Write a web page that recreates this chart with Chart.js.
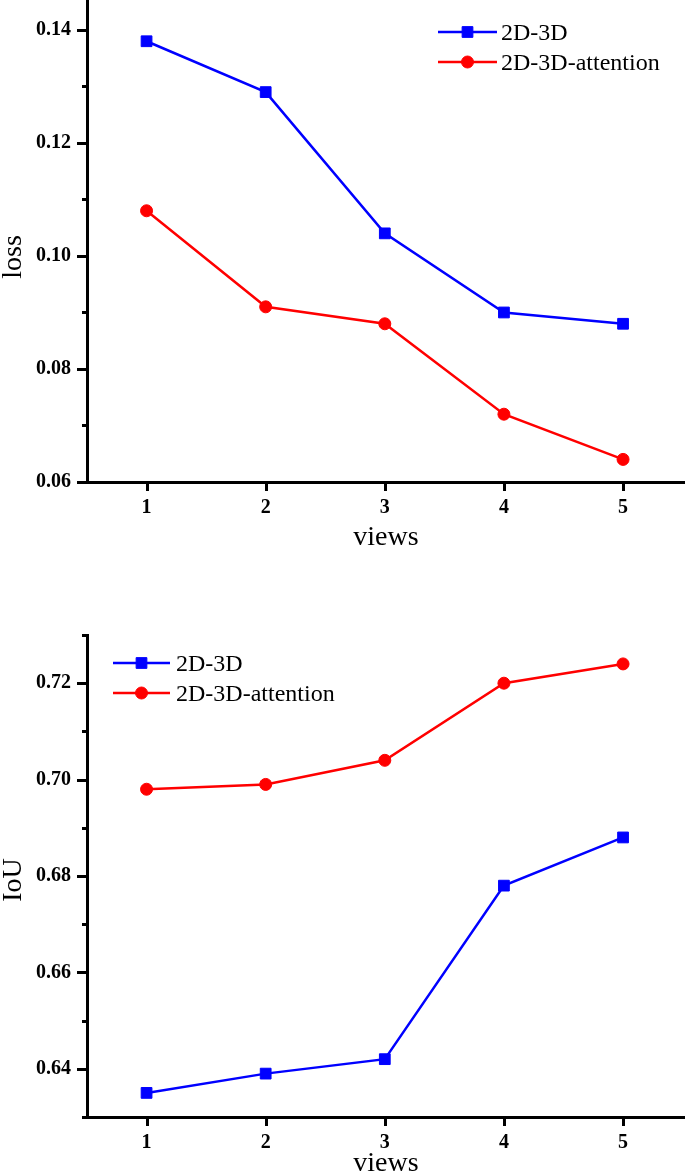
<!DOCTYPE html>
<html lang="en">
<head>
<meta charset="UTF-8">
<title>Loss and IoU vs views</title>
<script src="https://cdn.jsdelivr.net/npm/chart.js"></script>
<style>
  html, body { margin: 0; padding: 0; background: #fff; }
  #wrap { position: relative; width: 685px; height: 1176px; overflow: hidden; }
  #lossChart { position: absolute; left: 0; top: 0; }
  #iouChart { position: absolute; left: 0; top: 600px; }
</style>
</head>
<body>
<div id="wrap">
  <canvas id="lossChart" width="685" height="560"></canvas>
  <canvas id="iouChart" width="685" height="576"></canvas>
</div>
<script>
  // data
  const views = [1, 2, 3, 4, 5];
  const seriesNames = ['2D-3D', '2D-3D-attention'];
  const loss2d3d = [0.138, 0.129, 0.104, 0.090, 0.088];
  const lossAttention = [0.108, 0.091, 0.088, 0.072, 0.064];
  const iou2d3d = [0.635, 0.639, 0.642, 0.678, 0.688];
  const iouAttention = [0.698, 0.699, 0.704, 0.720, 0.724];

  const SERIF = '"Liberation Serif", "Times New Roman", serif';
  const BLUE = '#0000ff';
  const RED = '#ff0000';

  const toPoints = (ys) => views.map((x, i) => ({ x: x, y: ys[i] }));

  function makeDatasets(blueVals, redVals) {
    return [
      {
        label: seriesNames[0], data: toPoints(blueVals),
        borderColor: BLUE, backgroundColor: BLUE, borderWidth: 2.5,
        pointStyle: 'rect', pointRadius: 7.6, pointBorderWidth: 1, tension: 0
      },
      {
        label: seriesNames[1], data: toPoints(redVals),
        borderColor: RED, backgroundColor: RED, borderWidth: 2.5,
        pointStyle: 'circle', pointRadius: 6, pointBorderWidth: 1, tension: 0
      }
    ];
  }

  // outward tick marks: long for labelled ticks, short for the others
  const tickMarks = {
    id: 'tickMarks',
    afterDraw(chart) {
      const ctx = chart.ctx;
      const area = chart.chartArea;
      const xs = chart.scales.x, ys = chart.scales.y;
      ctx.save();
      ctx.strokeStyle = '#000';
      ctx.lineWidth = 3;
      ctx.beginPath();
      xs.ticks.forEach(t => {
        const px = Math.round(xs.getPixelForValue(t.value)) + 0.5;
        ctx.moveTo(px, area.bottom);
        ctx.lineTo(px, area.bottom + 9);
      });
      ys.ticks.forEach(t => {
        const py = Math.round(ys.getPixelForValue(t.value)) + 0.5;
        const major = Math.round(t.value * 100) % 2 === 0;
        ctx.moveTo(area.left, py);
        ctx.lineTo(area.left - (major ? 10 : 5), py);
      });
      ctx.stroke();
      ctx.restore();
    }
  };

  // legend drawn as line with marker through it
  const lineLegend = {
    id: 'lineLegend',
    afterDraw(chart, args, opts) {
      const ctx = chart.ctx;
      ctx.save();
      chart.data.datasets.forEach((ds, i) => {
        const y = opts.rows[i];
        ctx.strokeStyle = ds.borderColor;
        ctx.lineWidth = ds.borderWidth;
        ctx.beginPath();
        ctx.moveTo(opts.x0, y);
        ctx.lineTo(opts.x1, y);
        ctx.stroke();
        ctx.fillStyle = ds.backgroundColor;
        ctx.lineWidth = ds.pointBorderWidth;
        Chart.helpers.drawPoint(ctx, {
          pointStyle: ds.pointStyle, radius: ds.pointRadius,
          borderWidth: ds.pointBorderWidth, rotation: 0
        }, (opts.x0 + opts.x1) / 2, y);
        ctx.fillStyle = '#000';
        ctx.font = '24px ' + SERIF;
        ctx.textAlign = 'left';
        ctx.textBaseline = 'alphabetic';
        ctx.fillText(ds.label, opts.textX, y + 8);
      });
      ctx.restore();
    }
  };

  // rotated y axis title
  const sideTitle = {
    id: 'sideTitle',
    afterDraw(chart, args, opts) {
      const ctx = chart.ctx;
      const area = chart.chartArea;
      ctx.save();
      ctx.translate(opts.x, (area.top + area.bottom) / 2 + opts.dy);
      ctx.rotate(-Math.PI / 2);
      ctx.fillStyle = '#000';
      ctx.font = '28px ' + SERIF;
      ctx.textAlign = 'center';
      ctx.textBaseline = 'alphabetic';
      ctx.fillText(opts.text, 0, 0);
      ctx.restore();
    }
  };

  function makeOptions(cfg) {
    return {
      responsive: false,
      animation: false,
      devicePixelRatio: 1,
      layout: { autoPadding: false, padding: { top: cfg.padTop, left: 0, right: 0, bottom: 0 } },
      plugins: {
        legend: { display: false },
        tooltip: { enabled: false },
        lineLegend: cfg.legend,
        sideTitle: { text: cfg.yTitle, x: 21, dy: cfg.titleShift }
      },
      scales: {
        x: {
          type: 'linear', min: 0.5, max: 5.52,
          grid: { display: true, drawOnChartArea: false, drawTicks: false },
          border: { display: true, color: '#000', width: 3 },
          ticks: {
            stepSize: 1, includeBounds: false, padding: 14, color: '#000',
            font: { family: SERIF, size: 20, weight: 'bold' }
          },
          title: {
            display: true, text: 'views', color: '#000',
            font: { family: SERIF, size: 28, lineHeight: cfg.xTitleLh },
            padding: { top: 0, bottom: cfg.xTitlePad }
          },
          afterFit(scale) {
            scale.height = cfg.xHeight;
            scale.paddingLeft = 0;
            scale.paddingRight = 0;
          }
        },
        y: {
          min: cfg.yMin, max: cfg.yMax,
          grid: { display: true, drawOnChartArea: false, drawTicks: false },
          border: { display: true, color: '#000', width: 3 },
          ticks: {
            stepSize: 0.01, includeBounds: false, padding: 16, color: '#000',
            font: { family: SERIF, size: 20, weight: 'bold' },
            callback: (v) => Math.round(v * 100) % 2 === 0 ? v.toFixed(2) : ''
          },
          afterFit(scale) {
            scale.width = 87;
            scale.paddingTop = 0;
            scale.paddingBottom = 0;
          }
        }
      }
    };
  }

  new Chart(document.getElementById('lossChart'), {
    type: 'line',
    data: { datasets: makeDatasets(loss2d3d, lossAttention) },
    options: makeOptions({
      padTop: 0, yMin: 0.06, yMax: 0.1453, xHeight: 78,
      xTitleLh: 1.2, xTitlePad: 6, yTitle: 'loss', titleShift: 16,
      legend: { x0: 438, x1: 497, textX: 501, rows: [32, 62] }
    }),
    plugins: [tickMarks, lineLegend, sideTitle]
  });

  new Chart(document.getElementById('iouChart'), {
    type: 'line',
    data: { datasets: makeDatasets(iou2d3d, iouAttention) },
    options: makeOptions({
      padTop: 35, yMin: 0.63, yMax: 0.73, xHeight: 59,
      xTitleLh: 0.6, xTitlePad: 3.6, yTitle: 'IoU', titleShift: 4,
      legend: { x0: 113, x1: 170, textX: 176, rows: [63, 93] }
    }),
    plugins: [tickMarks, lineLegend, sideTitle]
  });
</script>
</body>
</html>
